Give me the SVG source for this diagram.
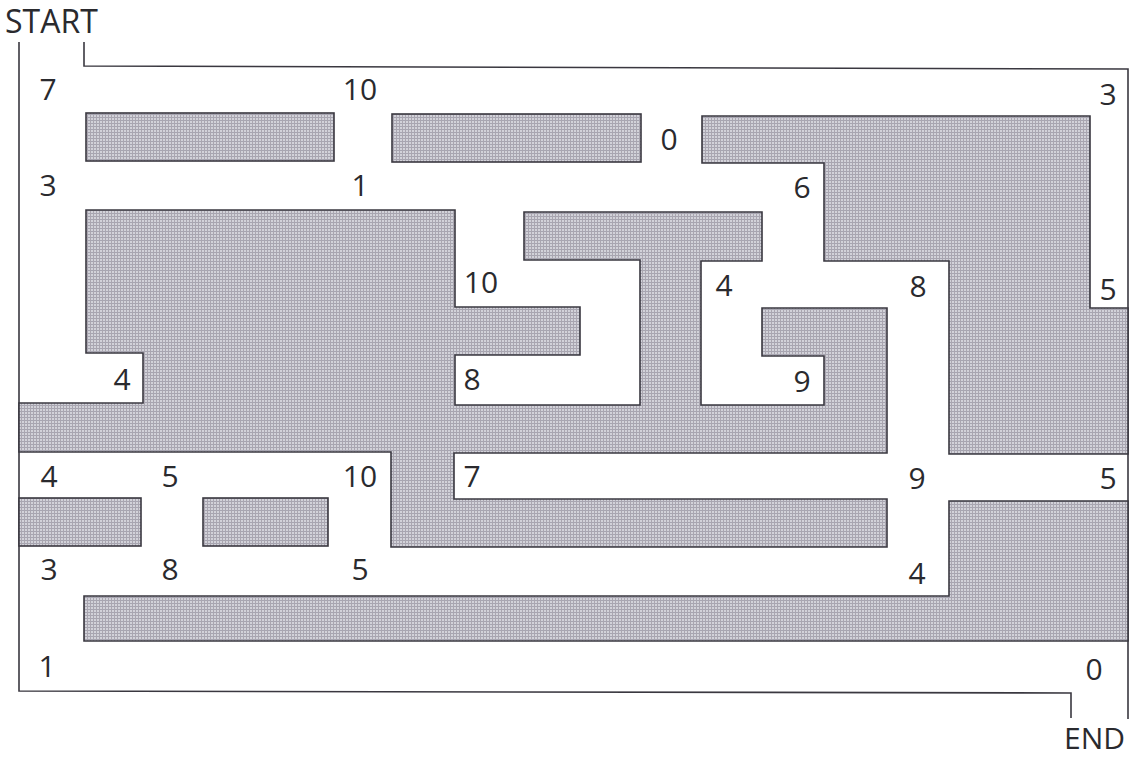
<svg xmlns="http://www.w3.org/2000/svg" width="1143" height="758" viewBox="0 0 1143 758">
<defs>
<pattern id="mesh" width="3" height="3" patternUnits="userSpaceOnUse">
<rect width="3" height="3" fill="#d2d2d9"/>
<rect x="0" y="0" width="3" height="1" fill="#a6a5b1"/>
<rect x="0" y="0" width="1" height="3" fill="#aaa6b0"/>
</pattern>
<style>
.blk{fill:url(#mesh);stroke:#3a3840;stroke-width:1.6;stroke-linejoin:miter}
.wall{fill:none;stroke:#3a3840;stroke-width:1.6}
.n{font-family:"Open Sans","Noto Sans",sans-serif;font-size:30px;fill:#2a2a2e;text-anchor:middle}
.lbl{font-family:"Open Sans","Noto Sans",sans-serif;font-size:32px;fill:#2a2a2e}
.end{font-family:"Open Sans","Noto Sans",sans-serif;font-size:30px;fill:#2a2a2e}
</style>
</defs>
<rect width="1143" height="758" fill="#ffffff"/>
<g id="connectors">
<polyline class="wall" points="19,42 19,691 1071,693 1071,718"/>
<polyline class="wall" points="84,42 84,66 1128,69 1128,719"/>
</g>
<g id="block-a"><rect class="blk" x="86" y="113" width="248" height="48"/></g>
<g id="block-b"><rect class="blk" x="392" y="114" width="249" height="48"/></g>
<g id="block-c"><polygon class="blk" points="702,116 1090,116 1090,308 1128,308 1128,454 949,454 949,261 824,261 824,163 702,163"/></g>
<g id="block-d"><polygon class="blk" points="86,210 455,210 455,307 580,307 580,355 455,355 455,405 640,405 640,260 524,260 524,212 762,212 762,261 701,261 701,405 824,405 824,356 762,356 762,308 887,308 887,453 454,453 454,499 887,499 887,547 391,547 391,452 19,452 19,403 143,403 143,353 86,353"/></g>
<g id="block-e"><rect class="blk" x="19" y="498" width="122" height="48"/></g>
<g id="block-f"><rect class="blk" x="203" y="498" width="125" height="48"/></g>
<g id="block-g"><polygon class="blk" points="84,596 949,596 949,501 1128,501 1128,641 84,641"/></g>
<g id="labels">
<text class="lbl" x="5" y="33">START</text>
<text class="end" x="1064" y="749">END</text>
<text class="n" x="48" y="100">7</text>
<text class="n" x="360" y="100">10</text>
<text class="n" x="48" y="196">3</text>
<text class="n" x="360" y="196">1</text>
<text class="n" x="669" y="150">0</text>
<text class="n" x="1108" y="105">3</text>
<text class="n" x="802" y="198">6</text>
<text class="n" x="918" y="297">8</text>
<text class="n" x="1108" y="300">5</text>
<text class="n" x="481" y="293">10</text>
<text class="n" x="724" y="296">4</text>
<text class="n" x="472" y="390">8</text>
<text class="n" x="122" y="390">4</text>
<text class="n" x="802" y="392">9</text>
<text class="n" x="917" y="489">9</text>
<text class="n" x="1108" y="489">5</text>
<text class="n" x="472" y="487">7</text>
<text class="n" x="49" y="487">4</text>
<text class="n" x="170" y="487">5</text>
<text class="n" x="360" y="487">10</text>
<text class="n" x="49" y="580">3</text>
<text class="n" x="170" y="580">8</text>
<text class="n" x="360" y="580">5</text>
<text class="n" x="917" y="584">4</text>
<text class="n" x="47" y="677">1</text>
<text class="n" x="1094" y="680">0</text>
</g>
</svg>
